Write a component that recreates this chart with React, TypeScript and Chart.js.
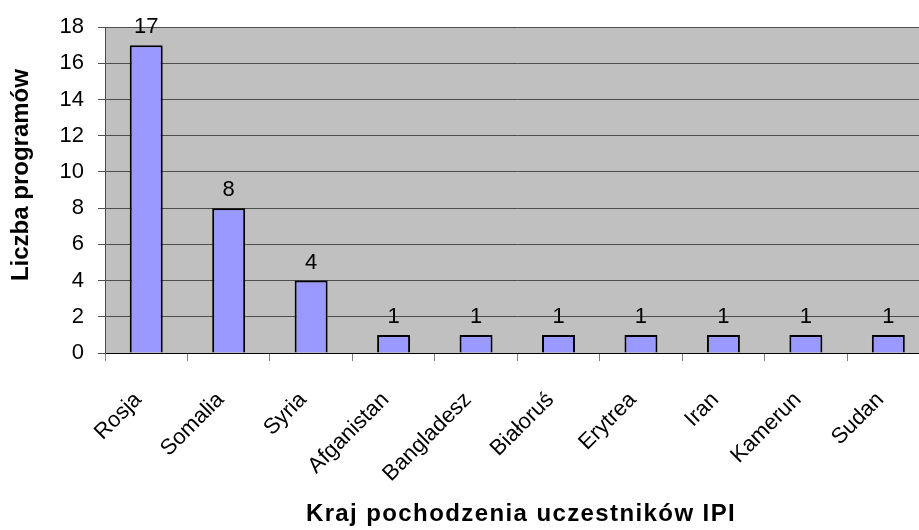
import React, { useEffect, useRef } from "react";
import { Chart, registerables } from "chart.js";

Chart.register(...registerables);

const categories = ["Rosja", "Somalia", "Syria", "Afganistan", "Bangladesz", "Białoruś", "Erytrea", "Iran", "Kamerun", "Sudan"];
const values = [17, 8, 4, 1, 1, 1, 1, 1, 1, 1];
const yTicks = [0, 2, 4, 6, 8, 10, 12, 14, 16, 18];
const xTitle = "Kraj pochodzenia uczestników IPI";
const yTitle = "Liczba programów";

const FONT = "'Liberation Sans', Arial, sans-serif";

const plotBg = {
  id: "plotBg",
  beforeDraw(chart: any) {
    const { ctx, chartArea } = chart;
    ctx.save();
    ctx.fillStyle = "#C0C0C0";
    ctx.fillRect(chartArea.left, chartArea.top, chartArea.right - chartArea.left, chartArea.bottom - chartArea.top);
    ctx.restore();
  },
};

const dataLabels = {
  id: "dataLabels",
  afterDatasetsDraw(chart: any) {
    const { ctx } = chart;
    const meta = chart.getDatasetMeta(0);
    ctx.save();
    ctx.font = `22px ${FONT}`;
    ctx.fillStyle = "#000";
    ctx.textAlign = "center";
    ctx.textBaseline = "alphabetic";
    meta.data.forEach((bar: any, i: number) => {
      ctx.fillText(String(values[i]), bar.x, bar.y - 12);
    });
    ctx.restore();
  },
};

const axisTitles = {
  id: "axisTitles",
  afterDraw(chart: any) {
    const { ctx, chartArea } = chart;
    ctx.save();
    ctx.fillStyle = "#000";
    ctx.font = `bold 24px ${FONT}`;
    ctx.textAlign = "center";
    ctx.textBaseline = "alphabetic";
    (ctx as any).letterSpacing = "1.4px";
    ctx.fillText(xTitle, 521, 521);
    (ctx as any).letterSpacing = "0px";
    ctx.translate(28, (chartArea.top + chartArea.bottom) / 2 - 15);
    ctx.rotate(-Math.PI / 2);
    ctx.fillText(yTitle, 0, 0);
    ctx.restore();
  },
};

export default function App() {
  const ref = useRef<HTMLCanvasElement>(null);
  useEffect(() => {
    if (!ref.current) return;
    const chart = new Chart(ref.current, {
      type: "bar",
      data: {
        labels: categories,
        datasets: [
          {
            data: values,
            backgroundColor: "#9999FF",
            borderColor: "#000000",
            borderWidth: 2,
            barPercentage: 0.4,
            categoryPercentage: 1,
          },
        ],
      },
      options: {
        animation: false,
        responsive: false,
        maintainAspectRatio: false,
        layout: { padding: { top: 27, right: 0, bottom: 0, left: 0 } },
        plugins: { legend: { display: false }, tooltip: { enabled: false } },
        scales: {
          x: {
            offset: true,
            grid: {
              drawOnChartArea: false,
              drawTicks: true,
              tickLength: 8,
              offset: true,
              color: "#808080",
            },
            border: { color: "#000000", width: 1 },
            ticks: {
              color: "#000",
              font: { family: FONT, size: 22 },
              maxRotation: 45,
              minRotation: 45,
              padding: 26,
              labelOffset: -8,
              autoSkip: false,
            },
            title: { display: false },
            afterFit(scale: any) {
              scale.height = 177;
            },
          },
          y: {
            min: 0,
            max: 18,
            afterBuildTicks(scale: any) {
              scale.ticks = yTicks.map((v) => ({ value: v }));
            },
            grid: {
              color: "#4D4D4D",
              lineWidth: 1,
              tickLength: 7,
              drawTicks: true,
            },
            border: { color: "#4D4D4D", width: 1 },
            ticks: {
              color: "#000",
              font: { family: FONT, size: 22 },
              padding: 14,
            },
            title: { display: false },
            afterFit(scale: any) {
              scale.width = 105;
            },
          },
        },
      },
      plugins: [plotBg, dataLabels, axisTitles],
    });
    return () => chart.destroy();
  }, []);
  return (
    <div style={{ position: "fixed", left: 0, top: 0, width: 919, height: 530, overflow: "hidden", background: "#fff" }}>
      <canvas ref={ref} width={933} height={530} style={{ display: "block", width: 933, height: 530 }} />
    </div>
  );
}
